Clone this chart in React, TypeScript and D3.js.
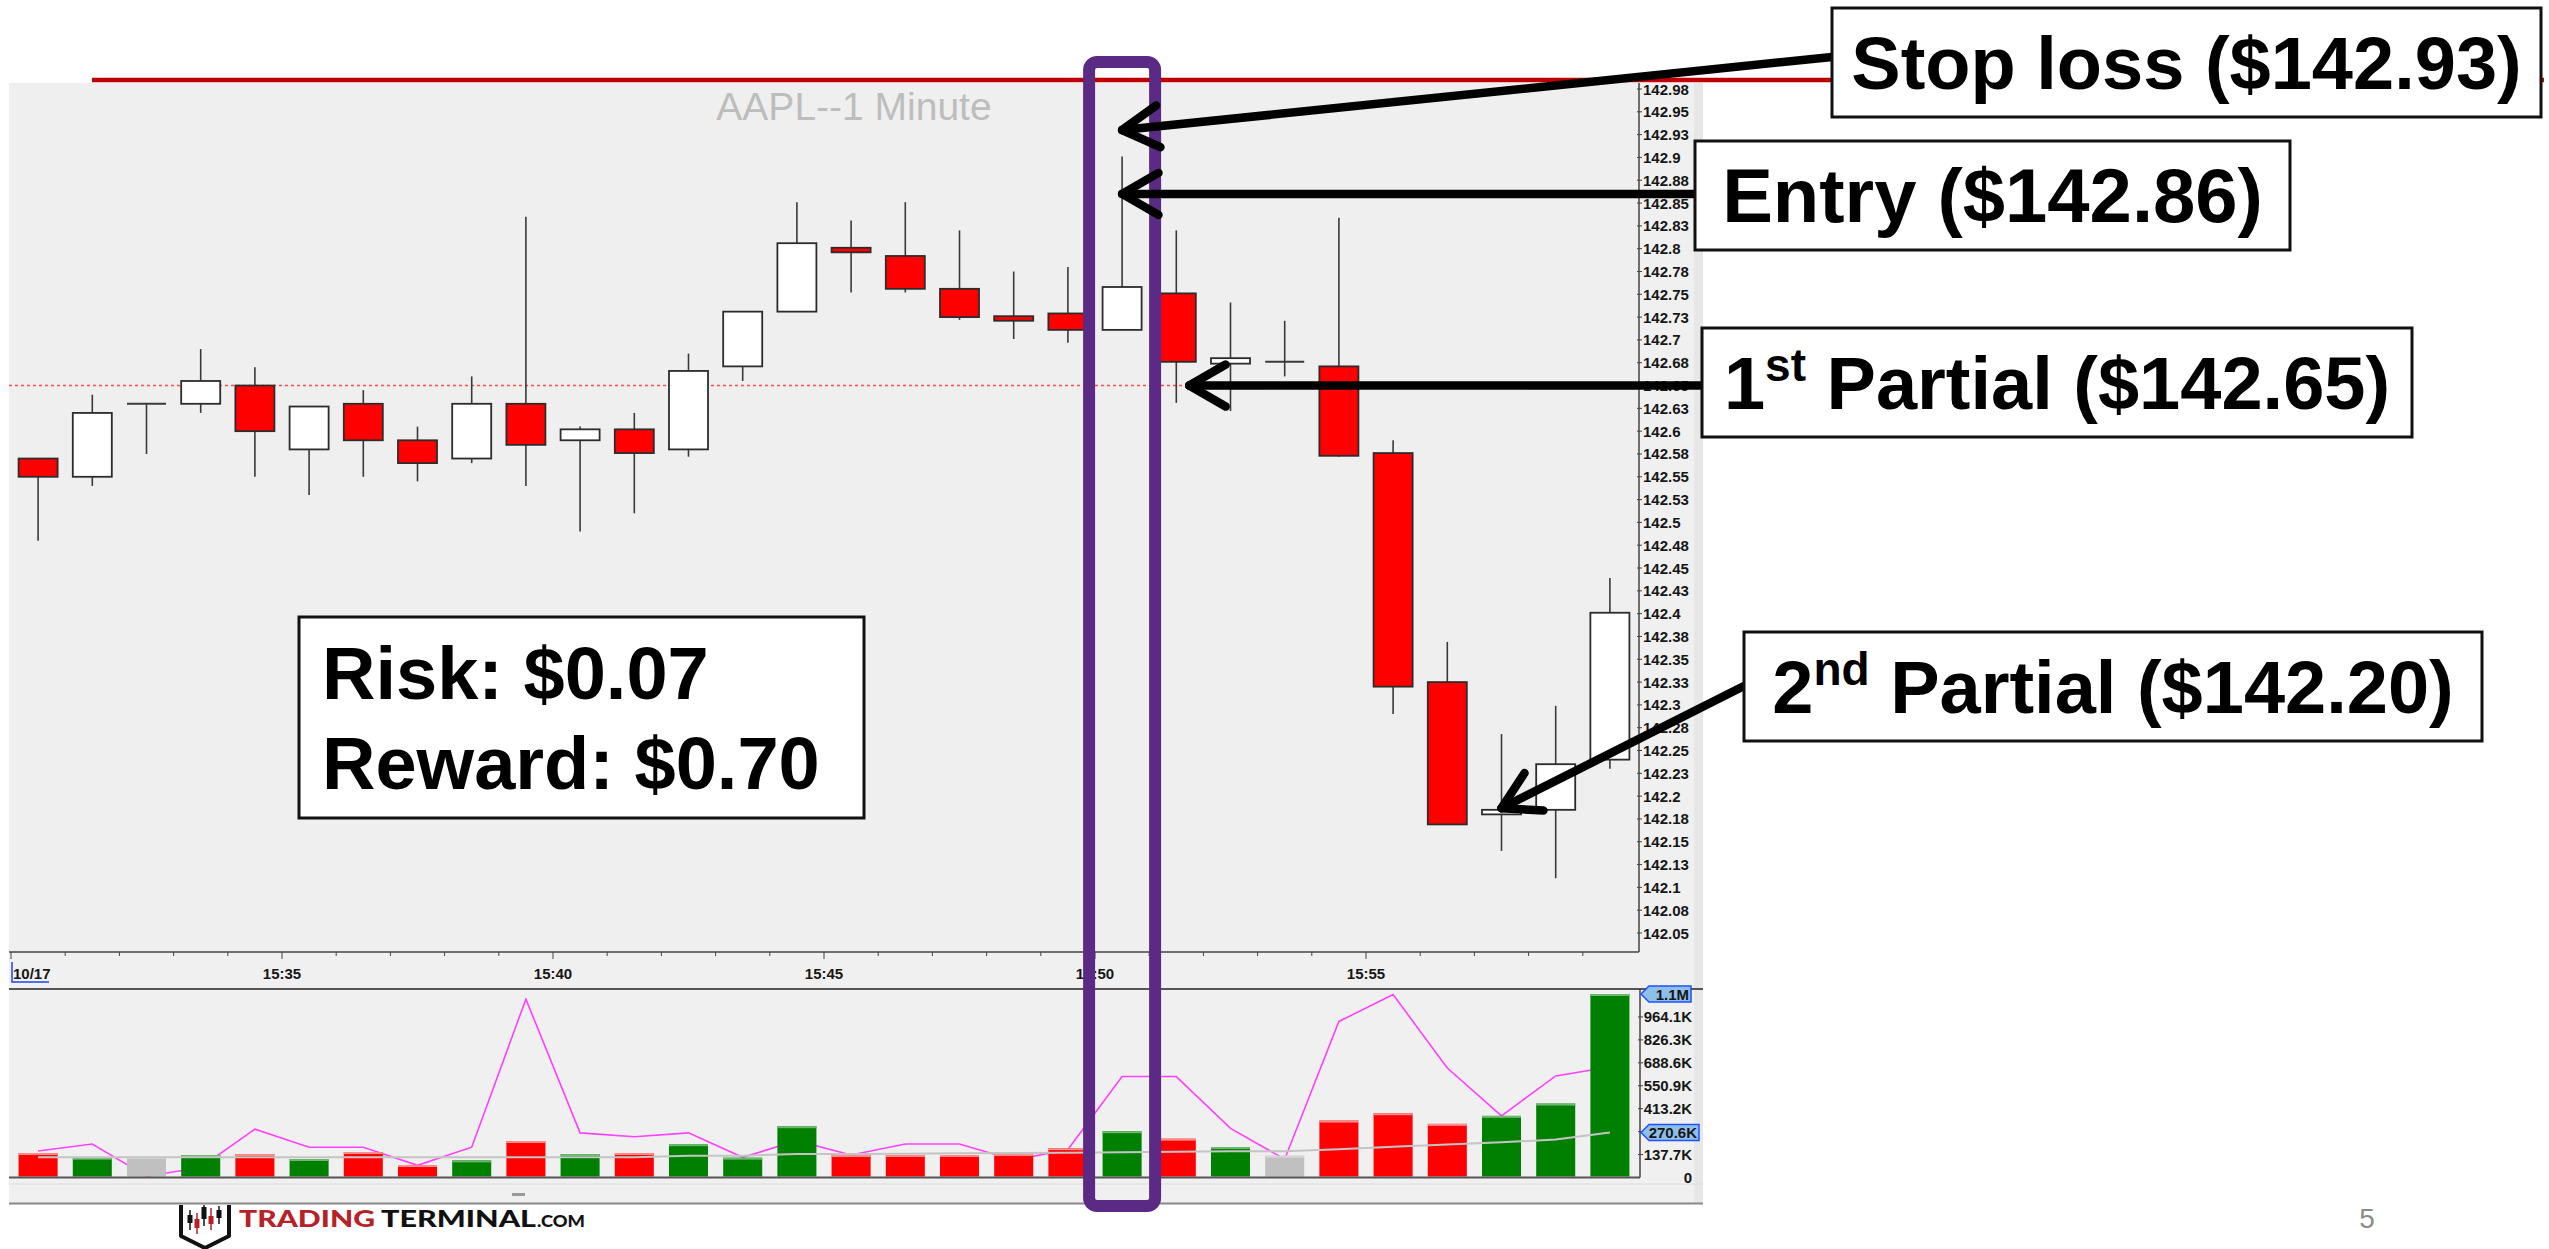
import React, { useRef, useEffect } from 'react'
import * as d3 from 'd3'

// AAPL 1-minute bars, 10/17
const times = [
    '15:30', '15:31', '15:32', '15:33', '15:34', '15:35', '15:36', '15:37', '15:38', '15:39',
    '15:40', '15:41', '15:42', '15:43', '15:44', '15:45', '15:46', '15:47', '15:48', '15:49',
    '15:50', '15:51', '15:52', '15:53', '15:54', '15:55', '15:56', '15:57', '15:58', '15:59',
]
const opens = [
    142.57, 142.55, 142.63, 142.63, 142.65, 142.58, 142.63, 142.59, 142.57, 142.63,
    142.59, 142.602, 142.58, 142.671, 142.731, 142.801, 142.792, 142.756, 142.726, 142.729,
    142.711, 142.751, 142.674, 142.676, 142.671, 142.576, 142.325, 142.18, 142.185, 142.24,
]
const highs = [
    142.57, 142.64, 142.63, 142.69, 142.67, 142.627, 142.645, 142.605, 142.66, 142.835,
    142.605, 142.62, 142.685, 142.731, 142.851, 142.831, 142.851, 142.82, 142.775, 142.78,
    142.901, 142.82, 142.741, 142.721, 142.834, 142.59, 142.369, 142.268, 142.299, 142.439,
]
const lows = [
    142.48, 142.54, 142.575, 142.62, 142.55, 142.53, 142.55, 142.545, 142.565, 142.54,
    142.49, 142.51, 142.572, 142.655, 142.731, 142.752, 142.752, 142.722, 142.701, 142.697,
    142.711, 142.631, 142.622, 142.66, 142.572, 142.29, 142.169, 142.14, 142.11, 142.23,
]
const closes = [
    142.55, 142.62, 142.63, 142.655, 142.6, 142.627, 142.59, 142.565, 142.63, 142.585,
    142.602, 142.576, 142.666, 142.731, 142.806, 142.796, 142.756, 142.725, 142.721, 142.711,
    142.758, 142.676, 142.68, 142.676, 142.573, 142.32, 142.169, 142.185, 142.235, 142.401,
]
// volume in thousands
const volumes = [
    147, 119, 123, 135, 141, 111, 153, 75, 103, 219,
    141, 147, 200, 119, 308, 135, 135, 135, 141, 176,
    278, 233, 183, 131, 342, 386, 322, 370, 444, 1101.8,
]
// magenta volume line
const volumeFast = [
    159, 201, 8, 60, 290, 182, 182, 73, 182, 1071,
    268, 245, 268, 121, 221, 135, 201, 201, 105, 168,
    606, 606, 295, 110, 937, 1098, 657, 370, 610, 663,
]
// gray volume average
const volumeAvg = [
    121, 121, 121, 121, 121, 121, 121, 121, 121, 121,
    121, 121, 131, 131, 141, 141, 143, 145, 147, 149,
    152, 155, 157, 158, 170, 184, 198, 211, 228, 270.6,
]

const priceTicks = [
    142.975, 142.95, 142.925, 142.9, 142.875, 142.85, 142.825, 142.8, 142.775, 142.75,
    142.725, 142.7, 142.675, 142.65, 142.625, 142.6, 142.575, 142.55, 142.525, 142.5,
    142.475, 142.45, 142.425, 142.4, 142.375, 142.35, 142.325, 142.3, 142.275, 142.25,
    142.225, 142.2, 142.175, 142.15, 142.125, 142.1, 142.075, 142.05,
]
const volumeTicks = [0, 137.7, 275.4, 413.2, 550.9, 688.6, 826.3, 964.1]
const volumeTickLabels = ['0', '137.7K', '', '413.2K', '550.9K', '688.6K', '826.3K', '964.1K']
const timeTicks = ['15:30', '15:35', '15:40', '15:45', '15:50', '15:55']
const timeTickLabels = ['10/17', '15:35', '15:40', '15:45', '15:50', '15:55']

const partialPrice = 142.65
const notes = [
    { pre: 'Stop loss ($142.93)', sup: '', post: '', price: 142.93, bar: '15:50' },
    { pre: 'Entry ($142.86)', sup: '', post: '', price: 142.86, bar: '15:50' },
    { pre: '1', sup: 'st', post: ' Partial ($142.65)', price: 142.65, bar: '15:51' },
    { pre: '2', sup: 'nd', post: ' Partial ($142.20)', price: 142.2, bar: '15:57' },
]

const fmtPrice = (v: number) => String(Math.round(v * 100 + 1e-6) / 100)

export default function App() {
    const svgRef = useRef<SVGSVGElement>(null)

    useEffect(() => {
        if (!svgRef.current) return
        const svg = d3.select(svgRef.current)
        svg.selectAll('*').remove()

        const sans = "'Liberation Sans', Arial, sans-serif"

        const x = d3
            .scaleBand<string>()
            .domain(times)
            .range([11, 1637])
            .paddingInner(0.28)
            .paddingOuter(0.14)
        const bw = x.bandwidth()
        const step = x.step()
        const cx = (t: string) => (x(t) ?? 0) + bw / 2
        const edge = (t: string) => (x(t) ?? 0) - step * 0.14

        const y = d3.scaleLinear().domain([142.05, 142.975]).range([933, 89])
        const yv = d3.scaleLinear().domain([0, 1101.8]).range([1177.5, 994])

        // chart window background
        svg.append('rect').attr('x', 9).attr('y', 83).attr('width', 1694).attr('height', 1121).attr('fill', '#f0f0f0')
        svg.append('rect').attr('x', 1694).attr('y', 83).attr('width', 9).attr('height', 1121).attr('fill', '#e7e7e7')
        svg.append('rect').attr('x', 9).attr('y', 83).attr('width', 1630).attr('height', 869).attr('fill', '#efefef')

        // price axis
        const gp = svg.append('g')
        gp.append('line')
            .attr('x1', 1639).attr('x2', 1639).attr('y1', 83).attr('y2', 952)
            .attr('stroke', '#444').attr('stroke-width', 1.5)
        priceTicks.forEach((v) => {
            gp.append('line')
                .attr('x1', 1637).attr('x2', 1642).attr('y1', y(v)).attr('y2', y(v))
                .attr('stroke', '#444').attr('stroke-width', 1)
            gp.append('text')
                .attr('x', 1643).attr('y', y(v) + 5.5)
                .attr('font-family', sans).attr('font-size', 15).attr('font-weight', 'bold')
                .attr('fill', '#161616')
                .text(fmtPrice(v))
        })

        // time axis
        const gt = svg.append('g')
        gt.append('line')
            .attr('x1', 9).attr('x2', 1639).attr('y1', 952).attr('y2', 952)
            .attr('stroke', '#444').attr('stroke-width', 1.5)
        times.forEach((t, i) => {
            gt.append('line')
                .attr('x1', edge(t)).attr('x2', edge(t)).attr('y1', 952).attr('y2', i % 5 === 0 ? 959 : 956)
                .attr('stroke', '#444').attr('stroke-width', 1)
        })
        timeTicks.forEach((t, i) => {
            gt.append('text')
                .attr('x', i === 0 ? edge(t) + 2 : edge(t)).attr('y', 978.5)
                .attr('text-anchor', i === 0 ? 'start' : 'middle')
                .attr('font-family', sans).attr('font-size', 15).attr('font-weight', 'bold')
                .attr('fill', '#161616')
                .text(timeTickLabels[i])
        })
        // date marker
        gt.append('path')
            .attr('d', `M${edge(times[0]) + 1},962 V982 H${edge(times[0]) + 38}`)
            .attr('fill', 'none').attr('stroke', '#2040ff').attr('stroke-width', 1.5)

        // 1st partial level
        svg.append('line')
            .attr('x1', 9).attr('x2', 1639).attr('y1', y(partialPrice)).attr('y2', y(partialPrice))
            .attr('stroke', '#ff4a4a').attr('stroke-width', 1.5).attr('stroke-dasharray', '3,3')

        // title
        svg.append('text')
            .attr('x', 854).attr('y', 120).attr('text-anchor', 'middle')
            .attr('font-family', sans).attr('font-size', 39).attr('fill', '#bdbdbd')
            .text('AAPL--1 Minute')

        // candles
        const gc = svg.append('g')
        times.forEach((t, i) => {
            const o = opens[i], c = closes[i]
            gc.append('line')
                .attr('x1', cx(t)).attr('x2', cx(t)).attr('y1', y(highs[i])).attr('y2', y(lows[i]))
                .attr('stroke', '#3a3a3a').attr('stroke-width', 1.6)
            if (o === c) {
                gc.append('line')
                    .attr('x1', x(t)!).attr('x2', x(t)! + bw).attr('y1', y(o)).attr('y2', y(o))
                    .attr('stroke', '#3a3a3a').attr('stroke-width', 2)
                return
            }
            const top = y(Math.max(o, c))
            const h = Math.max(y(Math.min(o, c)) - top, 3)
            gc.append('rect')
                .attr('x', x(t)!).attr('y', top).attr('width', bw).attr('height', h)
                .attr('fill', c > o ? '#ffffff' : '#ff0000')
                .attr('stroke', '#2c2c2c').attr('stroke-width', 1.8)
        })

        // volume panel
        const gv = svg.append('g')
        gv.append('line')
            .attr('x1', 9).attr('x2', 1703).attr('y1', 989).attr('y2', 989)
            .attr('stroke', '#555').attr('stroke-width', 2)

        const line = d3
            .line<number>()
            .x((_, i) => cx(times[i]))
            .y((d) => yv(d))

        gv.append('path')
            .attr('d', line(volumeFast))
            .attr('fill', 'none').attr('stroke', '#ff40ff').attr('stroke-width', 1.6)

        times.forEach((t, i) => {
            const up = closes[i] > opens[i]
            const flat = closes[i] === opens[i]
            const fill = flat ? '#c0c0c0' : up ? '#008000' : '#ff0000'
            const topFill = flat ? '#d6d6d6' : up ? '#6fb86f' : '#ff8c8c'
            const top = yv(volumes[i])
            gv.append('rect')
                .attr('x', x(t)!).attr('y', top).attr('width', bw).attr('height', yv(0) - top - 1)
                .attr('fill', fill)
            gv.append('rect')
                .attr('x', x(t)!).attr('y', top).attr('width', bw).attr('height', 2)
                .attr('fill', topFill)
        })

        gv.append('path')
            .attr('d', line(volumeAvg))
            .attr('fill', 'none').attr('stroke', '#c4c4c4').attr('stroke-width', 2)

        gv.append('line')
            .attr('x1', 9).attr('x2', 1640).attr('y1', yv(0)).attr('y2', yv(0))
            .attr('stroke', '#555').attr('stroke-width', 2)
        gv.append('line')
            .attr('x1', 1640).attr('x2', 1640).attr('y1', 989).attr('y2', yv(0))
            .attr('stroke', '#444').attr('stroke-width', 1.5)
        volumeTicks.forEach((v, i) => {
            if (v > 0) {
                gv.append('line')
                    .attr('x1', 1638).attr('x2', 1643).attr('y1', yv(v)).attr('y2', yv(v))
                    .attr('stroke', '#444')
            }
            if (volumeTickLabels[i]) {
                gv.append('text')
                    .attr('x', 1692).attr('y', yv(v) + 5.5).attr('text-anchor', 'end')
                    .attr('font-family', sans).attr('font-size', 15).attr('font-weight', 'bold')
                    .attr('fill', '#161616')
                    .text(volumeTickLabels[i])
            }
        })

        // last-value callouts
        const callout = (v: number, label: string, right: number) => {
            const cy = yv(v)
            gv.append('path')
                .attr('d', `M1641,${cy} L1649,${cy - 8} H${right} V${cy + 8} H1649 Z`)
                .attr('fill', '#8dbfe9').attr('stroke', '#2050ff').attr('stroke-width', 1.5)
            gv.append('text')
                .attr('x', right - 2).attr('y', cy + 5.5).attr('text-anchor', 'end')
                .attr('font-family', sans).attr('font-size', 15).attr('font-weight', 'bold')
                .attr('fill', '#161616')
                .text(label)
        }
        callout(volumes[volumes.length - 1], '1.1M', 1691)
        callout(volumeAvg[volumeAvg.length - 1], '270.6K', 1699)

        // bottom scroll strip
        gv.append('line')
            .attr('x1', 9).attr('x2', 1703).attr('y1', 1184).attr('y2', 1184)
            .attr('stroke', '#dcdcdc').attr('stroke-width', 1)
        gv.append('rect').attr('x', 512).attr('y', 1193).attr('width', 13).attr('height', 3).attr('fill', '#999')
        gv.append('line')
            .attr('x1', 9).attr('x2', 1703).attr('y1', 1203.5).attr('y2', 1203.5)
            .attr('stroke', '#8a8a8a').attr('stroke-width', 2)

        // stop loss line across the slide
        svg.append('line')
            .attr('x1', 92).attr('x2', 2544).attr('y1', 80).attr('y2', 80)
            .attr('stroke', '#c00000').attr('stroke-width', 4.5)

        // trade bar highlight
        svg.append('rect')
            .attr('x', cx('15:50') - 33).attr('y', 62).attr('width', 66).attr('height', 1144)
            .attr('rx', 8)
            .attr('fill', 'none').attr('stroke', '#5b2a85').attr('stroke-width', 12)

        // risk / reward box
        svg.append('rect')
            .attr('x', 299).attr('y', 617).attr('width', 565).attr('height', 201)
            .attr('fill', '#fff').attr('stroke', '#111').attr('stroke-width', 3)
        ;['Risk: $0.07', 'Reward: $0.70'].forEach((s, i) => {
            svg.append('text')
                .attr('x', 322).attr('y', 699 + i * 90)
                .attr('font-family', sans).attr('font-size', 74).attr('font-weight', 'bold')
                .attr('fill', '#000')
                .text(s)
        })

        // annotations with arrows
        const boxes = [
            [1832, 8, 709],
            [1695, 141, 595],
            [1702, 328, 710],
            [1744, 632, 738],
        ]
        const tipShift = [
            [0, 0],
            [0, 0],
            [13, 0],
            [0, 12],
        ]
        const arrow = (x1: number, y1: number, x2: number, y2: number) => {
            const len = Math.hypot(x1 - x2, y1 - y2)
            const ux = (x1 - x2) / len
            const uy = (y1 - y2) / len
            const g = svg.append('g').attr('stroke', '#000').attr('stroke-width', 8.5).attr('stroke-linecap', 'round').attr('fill', 'none')
            g.append('line').attr('x1', x1).attr('y1', y1).attr('x2', x2).attr('y2', y2)
            ;[-1, 1].forEach((s) => {
                const a = (s * 30 * Math.PI) / 180
                const ax = ux * Math.cos(a) - uy * Math.sin(a)
                const ay = ux * Math.sin(a) + uy * Math.cos(a)
                g.append('path')
                    .attr('d', `M${x2 + ax * 42},${y2 + ay * 42} L${x2},${y2}`)
                    .attr('stroke-linejoin', 'round')
            })
        }
        notes.forEach((n, i) => {
            const [bx, by, bwid] = boxes[i]
            const tx = cx(n.bar) + tipShift[i][0]
            const ty = y(n.price) + tipShift[i][1]
            const tailY = i === 0 ? by + 49 : i === 3 ? by + 54 : ty
            arrow(bx, tailY, tx, ty)

            svg.append('rect')
                .attr('x', bx).attr('y', by).attr('width', bwid).attr('height', 109)
                .attr('fill', '#fff').attr('stroke', '#111').attr('stroke-width', 3)
            const txt = svg.append('text')
                .attr('x', bx + bwid / 2).attr('y', by + 81).attr('text-anchor', 'middle')
                .attr('font-family', sans).attr('font-size', i === 1 ? 76 : 74).attr('font-weight', 'bold')
                .attr('fill', '#000')
            txt.append('tspan').text(n.pre)
            if (n.sup) {
                txt.append('tspan').attr('dy', -28).attr('font-size', 46).text(n.sup)
                txt.append('tspan').attr('dy', 28).text(n.post)
            }
        })

        // logo
        const gl = svg.append('g')
        gl.append('path')
            .attr('d', 'M181,1205 V1236 L205,1248 L229,1236 V1205')
            .attr('fill', '#fff').attr('stroke', '#111').attr('stroke-width', 4).attr('stroke-linejoin', 'round')
        ;[
            [190, 1210, 1230, 1215, 8, '#111'],
            [197, 1213, 1234, 1219, 9, '#b7222a'],
            [204, 1205, 1226, 1207, 12, '#111'],
            [211, 1208, 1230, 1216, 8, '#b7222a'],
            [219, 1206, 1224, 1210, 8, '#111'],
        ].forEach(([lx, y1, y2, by, bh, col]) => {
            gl.append('line').attr('x1', lx).attr('x2', lx).attr('y1', y1).attr('y2', y2)
                .attr('stroke', col as string).attr('stroke-width', 1.5)
            gl.append('rect').attr('x', (lx as number) - 2.5).attr('y', by).attr('width', 5).attr('height', bh)
                .attr('fill', col as string)
        })
        gl.append('text')
            .attr('x', 239).attr('y', 1226.5)
            .attr('font-family', "Lato, 'Liberation Sans', sans-serif").attr('font-size', 22).attr('font-weight', 900)
            .attr('fill', '#b7222a').attr('textLength', 136).attr('lengthAdjust', 'spacingAndGlyphs')
            .text('TRADING')
        gl.append('text')
            .attr('x', 381).attr('y', 1226.5)
            .attr('font-family', "Lato, 'Liberation Sans', sans-serif").attr('font-size', 22).attr('font-weight', 900)
            .attr('fill', '#111').attr('textLength', 155).attr('lengthAdjust', 'spacingAndGlyphs')
            .text('TERMINAL')
        gl.append('text')
            .attr('x', 537).attr('y', 1226.5)
            .attr('font-family', "Lato, 'Liberation Sans', sans-serif").attr('font-size', 17).attr('font-weight', 900)
            .attr('fill', '#111').attr('textLength', 48).attr('lengthAdjust', 'spacingAndGlyphs')
            .text('.COM')

        // slide number
        svg.append('text')
            .attr('x', 2367).attr('y', 1228).attr('text-anchor', 'middle')
            .attr('font-family', sans).attr('font-size', 28).attr('fill', '#8c8c8c')
            .text('5')
    }, [])

    return (
        <div style={{ position: 'absolute', left: 0, top: 0, width: 2549, height: 1249, overflow: 'hidden', background: '#fff' }}>
            <svg ref={svgRef} width={2549} height={1249} style={{ display: 'block' }} />
        </div>
    )
}
